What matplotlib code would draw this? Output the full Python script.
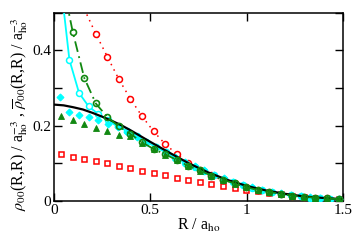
import matplotlib
matplotlib.use("Agg")
import matplotlib.pyplot as plt
from matplotlib.ticker import MultipleLocator, FormatStrFormatter

plt.rcParams["font.family"] = "Liberation Serif"
plt.rcParams["mathtext.fontset"] = "stix"
plt.rcParams["font.size"] = 11

# grid used by red / green series
r_grid = [0.037 + 0.06 * k for k in range(25)]
# grid used by cyan series
r_cyan = [0.03 + 0.05 * k for k in range(30)]

# black exact curve
r_black = [0.0, 0.05, 0.1, 0.15, 0.2, 0.25, 0.3, 0.35, 0.4, 0.45, 0.5, 0.6, 0.7,
           0.8, 0.9, 1.0, 1.1, 1.2, 1.3, 1.4, 1.5]
rho_black = [0.256, 0.254, 0.249, 0.243, 0.234, 0.224, 0.213, 0.201, 0.187, 0.172,
             0.157, 0.128, 0.100, 0.076, 0.056, 0.040, 0.028, 0.019, 0.012, 0.008, 0.005]

# red open circles + dotted line (starts at k=2)
rho_red_circ = [0.51, 0.444, 0.383, 0.323, 0.271, 0.225, 0.185, 0.151, 0.125, 0.101,
                0.083, 0.068, 0.056, 0.047, 0.038, 0.029, 0.025, 0.019, 0.014, 0.011,
                0.009, 0.007, 0.005]
# red squares
rho_red_sq = [0.125, 0.118, 0.112, 0.107, 0.100, 0.093, 0.088, 0.080, 0.074, 0.069,
              0.062, 0.056, 0.051, 0.045, 0.040, 0.034, 0.028, 0.026, 0.022, 0.018,
              0.013, 0.010, 0.008, 0.006, 0.005]

# green open circles + dash-dot line
rho_green_circ = [0.60, 0.45, 0.327, 0.259, 0.223, 0.198, 0.178, 0.156, 0.138, 0.124,
                  0.109, 0.093, 0.081, 0.067, 0.056, 0.047, 0.037, 0.029, 0.024, 0.019,
                  0.014, 0.011, 0.009, 0.007, 0.005]
# green triangles
rho_green_tri = [0.227, 0.216, 0.204, 0.195, 0.187, 0.176, 0.172, 0.154, 0.138, 0.123,
                 0.109, 0.094, 0.080, 0.067, 0.056, 0.046, 0.037, 0.029, 0.024, 0.019,
                 0.014, 0.011, 0.009, 0.007, 0.005]

# cyan line + open circles
rho_cyan_line = [0.60, 0.375, 0.287, 0.251, 0.231, 0.214, 0.198, 0.186, 0.172, 0.157,
                 0.143, 0.129, 0.115, 0.102, 0.090, 0.079, 0.068, 0.058, 0.050, 0.042,
                 0.035, 0.029, 0.024, 0.019, 0.015, 0.012, 0.009, 0.007, 0.006, 0.004]
# cyan diamonds
rho_cyan_dia = [0.275, 0.236, 0.229, 0.222, 0.214, 0.205, 0.196, 0.184, 0.170, 0.157,
                0.143, 0.130, 0.117, 0.104, 0.092, 0.081, 0.070, 0.060, 0.051, 0.043,
                0.036, 0.030, 0.025, 0.020, 0.016, 0.013, 0.010, 0.008, 0.006, 0.005]

RED = "#ff0000"
GREEN = "#118811"
CYAN = "#00ffff"

fig = plt.figure(figsize=(3.54, 2.4), dpi=100)
ax = fig.add_axes([0.1525, 0.1625, 0.8165, 0.7845])

ax.plot(r_grid, rho_red_sq, ls="none", marker="s", ms=3.6, mec=RED, mfc="white",
        mew=1.1, zorder=2)
ax.plot(r_grid[2:], rho_red_circ, color=RED, ls=(0, (1, 3)), lw=1.1,
        marker="o", ms=4.3, mec=RED, mfc="white", mew=1.1, markevery=slice(1, None),
        zorder=3)
ax.plot(r_cyan, rho_cyan_line, color=CYAN, lw=1.3, marker="o", ms=4.3, mec=CYAN,
        mfc="white", mew=1.1, markevery=slice(1, None), zorder=4)
ax.plot(r_cyan, rho_cyan_dia, ls="none", marker="D", ms=3.5, mec=CYAN, mfc=CYAN,
        mew=0.8, zorder=4)
ax.plot(r_black, rho_black, color="black", lw=1.6, zorder=5)
ax.plot(r_grid, rho_green_tri, ls="none", marker="^", ms=4.6, mec=GREEN, mfc=GREEN,
        mew=0.6, zorder=6)
ax.plot(r_grid, rho_green_circ, color=GREEN, ls=(0, (6, 2.5, 1, 2.5)), lw=1.3,
        marker="o", ms=4.3, mec=GREEN, mfc="none", mew=1.2,
        markevery=slice(1, None), zorder=7)

ax.set_xlim(0, 1.5)
ax.set_ylim(0, 0.5)
ax.xaxis.set_major_locator(MultipleLocator(0.5))
ax.yaxis.set_major_locator(MultipleLocator(0.2))
ax.yaxis.set_minor_locator(MultipleLocator(0.1))
ax.xaxis.set_major_formatter(FormatStrFormatter("%g"))
ax.yaxis.set_major_formatter(FormatStrFormatter("%g"))
ax.tick_params(which="both", direction="in", top=True, right=True, length=5.5,
               width=1.0, labelsize=11, pad=2)
for s in ax.spines.values():
    s.set_linewidth(1.1)

ax.set_xlabel(r"R / a$_{\mathrm{ho}}$", fontsize=11.5, labelpad=0)
ax.set_ylabel(r"$\rho_{00}$(R,R) / a$_{\mathrm{ho}}^{-3}$ , "
              r"$\overline{\rho}_{00}$(R,R) / a$_{\mathrm{ho}}^{-3}$",
              fontsize=11.5, labelpad=1)
ax.yaxis.set_label_coords(-0.082, 0.46)

fig.savefig("out.png", dpi=100)
